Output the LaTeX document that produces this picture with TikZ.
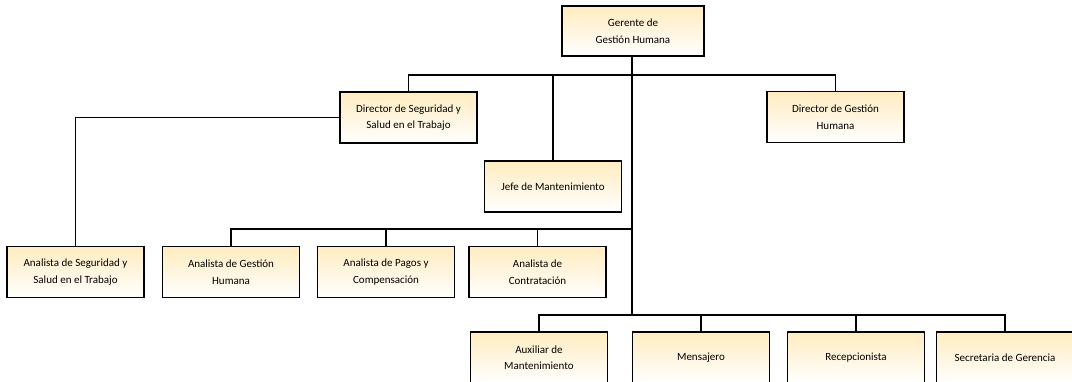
\documentclass[tikz,border=0pt]{standalone}
\usepackage{fontspec}
\setmainfont{Carlito}
\begin{document}
\begin{tikzpicture}[x=1pt,y=-1pt,
  box/.style={draw=black,line width=1.3pt,top color={rgb,255:red,255;green,236;blue,192},bottom color=white,
    minimum width=137pt,minimum height=51pt,inner sep=0pt,align=center,
    font=\fontsize{11}{16.5}\selectfont},
  conn/.style={draw=black,line width=1.4pt}]
\useasboundingbox (0,0) rectangle (1072,381);
\clip (0,0) rectangle (1072,381);
\node[box,minimum width=142pt,minimum height=50pt] (ger) at (633,31) {Gerente de\\Gestión Humana};
\node[box] (dseg) at (408.5,117.5) {Director de Seguridad y\\Salud en el Trabajo};
\node[box] (dgh) at (835.5,117) {Director de Gestión\\Humana};
\node[box] (jefe) at (553,186.5) {Jefe de Mantenimiento};
\node[box] (anseg) at (75.5,272) {Analista de Seguridad y\\Salud en el Trabajo};
\node[box] (angh) at (231,272) {Analista de Gestión\\Humana};
\node[box] (pagos) at (386,272) {Analista de Pagos y\\Compensación};
\node[box] (contr) at (537.5,272) {Analista de\\Contratación};
\node[box] (aux) at (539,357.5) {Auxiliar de\\Mantenimiento};
\node[box] (mens) at (701,357.5) {Mensajero};
\node[box] (recep) at (856,357.5) {Recepcionista};
\node[box] (secr) at (1005,357.5) {Secretaria de Gerencia};
\coordinate (b1) at (632,75);
\coordinate (b2) at (632,229);
\coordinate (b3) at (632,315);
\draw[conn] (ger.south -| b1) -- (b3);
\draw[conn] (dseg.north) |- (b1) -| (dgh.north);
\draw[conn] (jefe.north) -- (jefe.north |- b1);
\draw[conn] (dseg.west) -| (anseg.north);
\draw[conn] (angh.north) |- (b2);
\draw[conn] (pagos.north) -- (pagos.north |- b2);
\draw[conn] (contr.north) -- (contr.north |- b2);
\draw[conn] (aux.north) |- (b3) -| (secr.north);
\draw[conn] (mens.north) -- (mens.north |- b3);
\draw[conn] (recep.north) -- (recep.north |- b3);
\end{tikzpicture}
\end{document}
